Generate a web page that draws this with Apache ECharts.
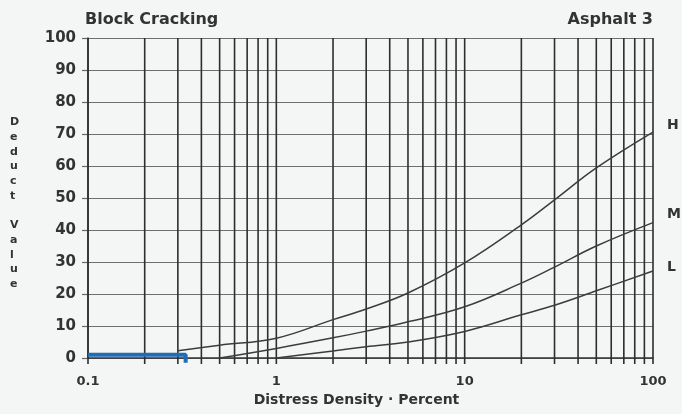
<!DOCTYPE html>
<html>
<head>
<meta charset="utf-8">
<script src="https://cdn.jsdelivr.net/npm/echarts@6/dist/echarts.min.js"></script>
<style>
html,body{margin:0;padding:0;background:#f4f5f5;}
#c{width:682px;height:414px;}
</style>
</head>
<body>
<div id="c"></div>
<script>
// Data
const hX = [0.3, 0.5, 1, 2, 3, 5, 10, 20, 30, 50, 100];
const hY = [2.3, 4, 6.2, 12, 15.3, 20.3, 29.7, 41.6, 49.4, 59.4, 70.6];
const mX = [0.5, 1, 2, 3, 5, 10, 20, 30, 50, 100];
const mY = [0, 3, 6.3, 8.4, 11.3, 16, 23.4, 28.4, 35, 42.3];
const lX = [1, 2, 3, 5, 10, 20, 30, 50, 100];
const lY = [0, 2.2, 3.5, 5, 8.3, 13.5, 16.5, 21, 27.2];
const blueX = [0.1, 0.33, 0.33];
const blueY = [1, 1, -1.5];
const xTickLabels = ['0.1', '1', '10', '100'];
const yTicks = [0, 10, 20, 30, 40, 50, 60, 70, 80, 90, 100];
const yAxisTitle = 'Deduct Value';
const decades = [0.1, 1, 10];
const multipliers = [1, 2, 3, 4, 5, 6, 7, 8, 9];

const pair = (xs, ys) => xs.map((x, i) => [x, ys[i]]);

const gridValues = [];
decades.forEach(d => multipliers.forEach(m => gridValues.push(+(d * m).toPrecision(3))));
gridValues.push(100);

const FONT = 'DejaVu Sans';
const INK = '#333';
const curveStyle = { color: '#3c3c3c', width: 1.5 };

function curve(name, data, dy) {
  return {
    name, type: 'line', data, symbol: 'none', smooth: 0.4,
    lineStyle: curveStyle, z: 5,
    endLabel: { show: true, formatter: name, distance: 14, offset: [0, dy],
      fontFamily: FONT, fontWeight: 'bold', fontSize: 14, color: INK }
  };
}

const chart = echarts.init(document.getElementById('c'));
chart.setOption({
  backgroundColor: '#f4f5f5',
  animation: false,
  title: [
    { text: 'Block Cracking', left: 80, top: 7,
      textStyle: { fontFamily: FONT, fontWeight: 'bold', fontSize: 16, color: INK } },
    { text: 'Asphalt 3', right: 24, top: 7,
      textStyle: { fontFamily: FONT, fontWeight: 'bold', fontSize: 16, color: INK } }
  ],
  graphic: [
    { type: 'text', left: 10, top: 115,
      style: { text: yAxisTitle.split('').join('\n'), fontFamily: FONT, fontWeight: 'bold',
        fontSize: 11, lineHeight: 14.7, fill: INK, align: 'center' } }
  ],
  grid: { left: 88, right: 29, top: 38, bottom: 56 },
  xAxis: {
    type: 'log', logBase: 10, min: 0.1, max: 100,
    name: 'Distress Density · Percent', nameLocation: 'middle', nameGap: 33,
    nameTextStyle: { fontFamily: FONT, fontWeight: 'bold', fontSize: 14, color: INK, padding: [0, 28, 0, 0] },
    axisLine: { show: true, lineStyle: { color: '#333', width: 1.5 } },
    axisTick: { show: false },
    splitLine: { show: false },
    axisLabel: { fontFamily: FONT, fontWeight: 'bold', fontSize: 13, color: INK, margin: 17,
      formatter: v => { const s = String(+v.toPrecision(3)); return xTickLabels.includes(s) ? s : ''; } }
  },
  yAxis: {
    type: 'value', min: 0, max: 100, interval: 10,
    axisLine: { show: true, lineStyle: { color: '#333', width: 1.5 } },
    axisTick: { show: true, length: 6, lineStyle: { color: '#666', width: 1.2 } },
    splitLine: { show: true, lineStyle: { color: '#6f6f6f', width: 1.2 } },
    axisLabel: { fontFamily: FONT, fontWeight: 'bold', fontSize: 15, color: INK, margin: 12,
      formatter: v => yTicks.includes(v) ? String(v) : '' }
  },
  series: [
    {
      name: 'vgrid', type: 'custom', silent: true, clip: false, z: 1,
      data: gridValues.map(v => [v]),
      encode: { x: 0 },
      renderItem: (params, api) => {
        const v = api.value(0);
        const top = api.coord([v, 100]);
        const bot = api.coord([v, 0]);
        return { type: 'line', shape: { x1: top[0], y1: top[1], x2: bot[0], y2: bot[1] + 6 },
          style: { stroke: '#2e2e2e', lineWidth: 1.6 } };
      }
    },
    curve('H', pair(hX, hY), -7),
    curve('M', pair(mX, mY), -8),
    curve('L', pair(lX, lY), -4),
    {
      name: 'blue', type: 'line', data: pair(blueX, blueY), symbol: 'none', clip: false, z: 6,
      lineStyle: { color: '#1f6db5', width: 4 }
    }
  ]
});
</script>
</body>
</html>
